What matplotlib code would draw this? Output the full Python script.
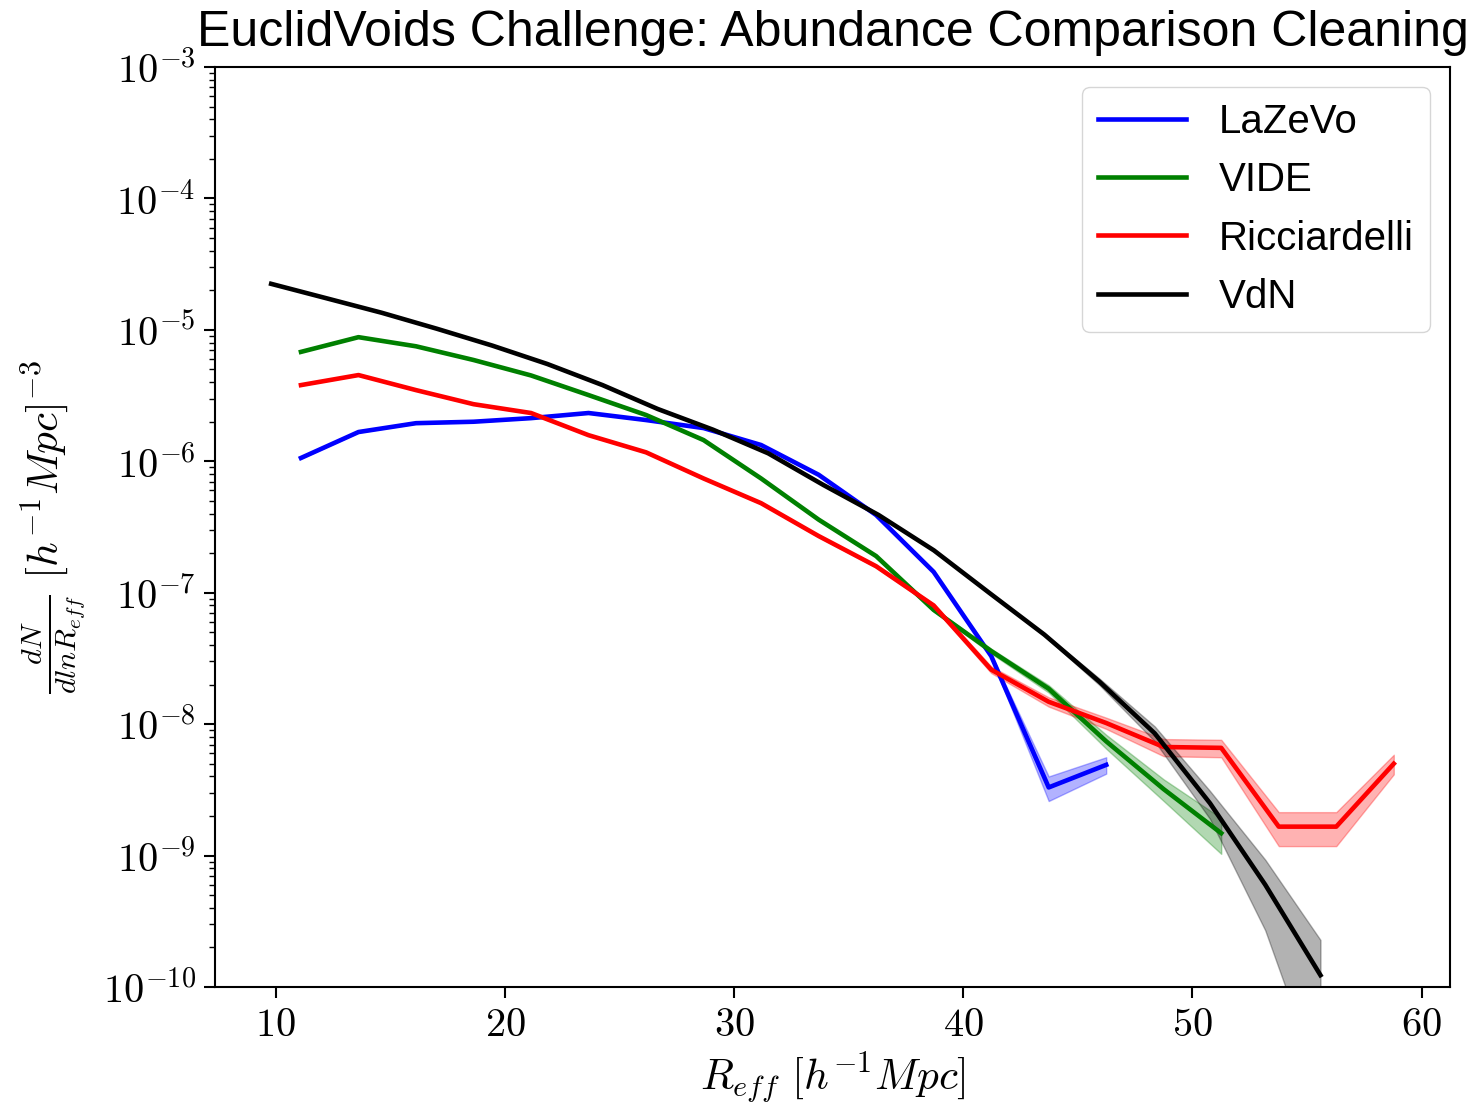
import numpy as np
import matplotlib
matplotlib.use("Agg")
import matplotlib.pyplot as plt
from matplotlib.ticker import FuncFormatter, FixedLocator, NullFormatter

plt.rcParams["mathtext.fontset"] = "cm"
plt.rcParams["font.family"] = ["Liberation Sans", "DejaVu Sans"]

# ─── Data ────────────────────────────────────────────────────────────────────
r_bins = [11.10, 13.61, 16.12, 18.63, 21.14, 23.65, 26.16, 28.67, 31.18, 33.69,
          36.20, 38.71, 41.22, 43.73, 46.24, 48.75, 51.26, 53.77, 56.28, 58.79]

lazevo     = [1.06e-6, 1.67e-6, 1.95e-6, 2.00e-6, 2.13e-6, 2.33e-6, 2.06e-6, 1.79e-6,
              1.33e-6, 7.9e-7, 3.9e-7, 1.44e-7, 3.3e-8, 3.3e-9, 4.9e-9]
lazevo_err = [1e-8, 1.5e-8, 1.5e-8, 1.5e-8, 1.5e-8, 1.5e-8, 1.5e-8, 1.2e-8,
              1e-8, 6e-9, 4e-9, 2e-9, 1e-9, 7e-10, 7e-10]

vide       = [6.8e-6, 8.8e-6, 7.5e-6, 5.9e-6, 4.5e-6, 3.19e-6, 2.25e-6, 1.45e-6,
              7.4e-7, 3.6e-7, 1.9e-7, 7.4e-8, 3.6e-8, 1.86e-8, 7.4e-9, 3.2e-9, 1.48e-9]
vide_err   = [3e-8, 4e-8, 3e-8, 3e-8, 2.5e-8, 2e-8, 1.5e-8, 1e-8,
              7e-9, 5e-9, 3e-9, 2e-9, 1.5e-9, 1.2e-9, 9e-10, 6e-10, 4.5e-10]

ricciardelli     = [3.8e-6, 4.53e-6, 3.48e-6, 2.72e-6, 2.33e-6, 1.58e-6, 1.17e-6, 7.4e-7,
                    4.8e-7, 2.7e-7, 1.59e-7, 8.0e-8, 2.6e-8, 1.48e-8, 1.02e-8, 6.7e-9,
                    6.6e-9, 1.66e-9, 1.66e-9, 5.0e-9]
ricciardelli_err = [2.5e-8, 3e-8, 2.5e-8, 2e-8, 2e-8, 1.5e-8, 1.2e-8, 9e-9,
                    7e-9, 5e-9, 3.5e-9, 2.5e-9, 1.5e-9, 1.2e-9, 1e-9, 1e-9,
                    1e-9, 4.8e-10, 4.8e-10, 8.5e-10]

r_vdn   = [9.80, 12.21, 14.62, 17.03, 19.44, 21.85, 24.26, 26.67, 29.08, 31.49,
           33.90, 36.31, 38.72, 41.13, 43.54, 45.95, 48.36, 50.77, 53.18, 55.59]
vdn     = [2.24e-5, 1.74e-5, 1.35e-5, 1.02e-5, 7.6e-6, 5.5e-6, 3.8e-6, 2.5e-6,
           1.74e-6, 1.15e-6, 6.6e-7, 3.9e-7, 2.1e-7, 1.0e-7, 4.8e-8, 2.1e-8,
           8.5e-9, 2.5e-9, 6.0e-10, 1.23e-10]
vdn_err = [5e-8, 4e-8, 3e-8, 2.5e-8, 2e-8, 1.5e-8, 1.2e-8, 9e-9,
           7e-9, 5e-9, 3e-9, 2e-9, 1.5e-9, 1.2e-9, 1e-9, 1.2e-9,
           1.1e-9, 6e-10, 3.3e-10, 1.05e-10]

y_decades = [-10, -9, -8, -7, -6, -5, -4, -3]

series = [
    ("LaZeVo",       r_bins, lazevo,       lazevo_err,       "blue"),
    ("VIDE",         r_bins, vide,         vide_err,         "green"),
    ("Ricciardelli", r_bins, ricciardelli, ricciardelli_err, "red"),
    ("VdN",          r_vdn,  vdn,          vdn_err,          "black"),
]

# ─── Plot ────────────────────────────────────────────────────────────────────
fig = plt.figure(figsize=(14.78, 11.06), dpi=100)
ax = fig.add_axes([0.1455, 0.1076, 0.8355, 0.8318])

for label, r, y, e, color in series:
    r = np.array(r[:len(y)])
    y = np.array(y)
    e = np.array(e)
    ax.plot(r, y, color=color, linewidth=3.3, label=label)
    ax.fill_between(r, y - e, y + e, color=color, alpha=0.3)

ax.set_yscale("log")
ax.set_ylim(1e-10, 1e-3)
major = [10.0 ** d for d in y_decades]
minor = [m * 10.0 ** d for d in y_decades[:-1] for m in range(2, 10)]
ax.yaxis.set_major_locator(FixedLocator(major))
ax.yaxis.set_minor_locator(FixedLocator(minor))
ax.yaxis.set_minor_formatter(NullFormatter())
ax.yaxis.set_major_formatter(FuncFormatter(lambda v, p: r"$10^{%d}$" % round(np.log10(v))))
ax.xaxis.set_major_formatter(FuncFormatter(lambda v, p: r"$%d$" % v))

ax.tick_params(axis="both", which="major", labelsize=29, length=8, width=1.5, pad=6)
ax.tick_params(axis="y", which="minor", length=4, width=1)
for spine in ax.spines.values():
    spine.set_linewidth(1.5)

ax.set_xlabel(r"$R_{eff}\ [h^{-1}Mpc]$", fontsize=31, labelpad=4)
ax.set_ylabel(r"$\frac{dN}{dlnR_{eff}}\ [h^{-1}Mpc]^{-3}$", fontsize=31, labelpad=10)
ax.set_title("EuclidVoids Challenge: Abundance Comparison Cleaning", fontsize=36, pad=15)

ax.legend(loc="upper right", fontsize=29, handlelength=2.2)

fig.savefig("out.png", dpi=100)
